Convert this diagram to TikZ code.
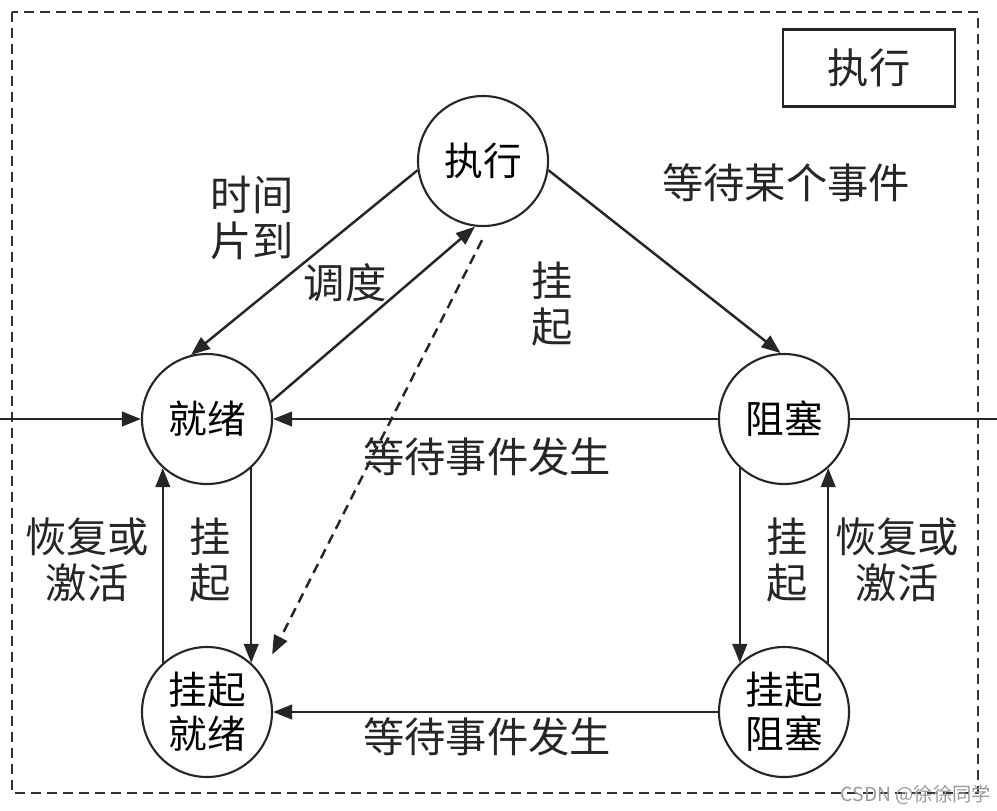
\documentclass[tikz,border=0pt]{standalone}
\usepackage{fontspec}
\newfontfamily\cjk{Noto Sans CJK SC}
\usetikzlibrary{arrows.meta,positioning,calc}
\tikzset{
  procstate/.style={circle, draw=black!85, line width=1.2pt, minimum size=26mm, inner sep=0pt,
    align=center, font=\cjk\fontsize{22}{25}\selectfont},
  lbl/.style={font=\cjk\fontsize{23.5}{26}\selectfont, align=center, text=black!85, inner sep=1pt},
  trans/.style={-{Triangle[length=3.8mm,width=2.9mm]}, line width=1.4pt, draw=black!85},
  plain/.style={line width=1.4pt, draw=black!85},
  susp/.style={trans, dash pattern=on 2mm off 1.3mm},
  frame/.style={draw=black!80, line width=1.3pt, dash pattern=on 2mm off 1.2mm},
}
\begin{document}
\begin{tikzpicture}[x=0.2mm, y=-0.2mm]
  \useasboundingbox (0,0) rectangle (997,810);
  \draw[frame] (12,12) rectangle (978,793);
  \node[lbl, draw=black!85, line width=1.3pt, minimum width=34.4mm, minimum height=15.4mm] (legend) at (869,68) {执行};
  % states
  \node[procstate] (exec) at (483,161) {执行};
  \node[procstate] (ready) at (207,419) {就绪};
  \node[procstate] (blocked) at (784,419) {阻塞};
  \node[procstate] (susready) at (207,712) {挂起\\就绪};
  \node[procstate] (susblocked) at (784,712) {挂起\\阻塞};
  \coordinate (left) at (0,419);
  \coordinate (right) at (997,419);
  % labels
  \node[lbl] (slice) at (252,218) {时间\\片到};
  \node[lbl] (sched) at (345,283) {调度};
  \node[lbl] (susp1) at (552,304) {挂\\起};
  \node[lbl] (waitsome) at (786,183) {等待某个事件};
  \node[lbl] (occur1) at (487,457) {等待事件发生};
  \node[lbl] (resume1) at (87,560) {恢复或\\激活};
  \node[lbl] (susp2) at (210,560) {挂\\起};
  \node[lbl] (susp3) at (787,560) {挂\\起};
  \node[lbl] (resume2) at (897,560) {恢复或\\激活};
  \node[lbl] (occur2) at (487,737) {等待事件发生};
  \node[font=\cjk\fontsize{11}{13}\selectfont, text=black!40, inner sep=0pt] (mark) at (916,795) {CSDN @徐徐同学};
  % transitions
  \draw[trans] (exec.188) -- (ready.104);
  \draw[trans] (ready.15) -- (exec.263);
  \draw[trans] (exec.-8) -- (blocked.93);
  \draw[susp, shorten <=3mm, shorten >=4.6mm] (exec.275) -- (susready.34);
  \draw[trans] (blocked.west) -- (ready.east);
  \draw[trans] (left) -- (ready.west);
  \draw[plain] (blocked.east) -- (right);
  \draw[trans] (ready.-48) -- (susready.48);
  \draw[trans] (susready.132) -- (ready.-132);
  \draw[trans] (blocked.-132) -- (susblocked.132);
  \draw[trans] (susblocked.48) -- (blocked.-48);
  \draw[trans] (susblocked.west) -- (susready.east);
\end{tikzpicture}
\end{document}
